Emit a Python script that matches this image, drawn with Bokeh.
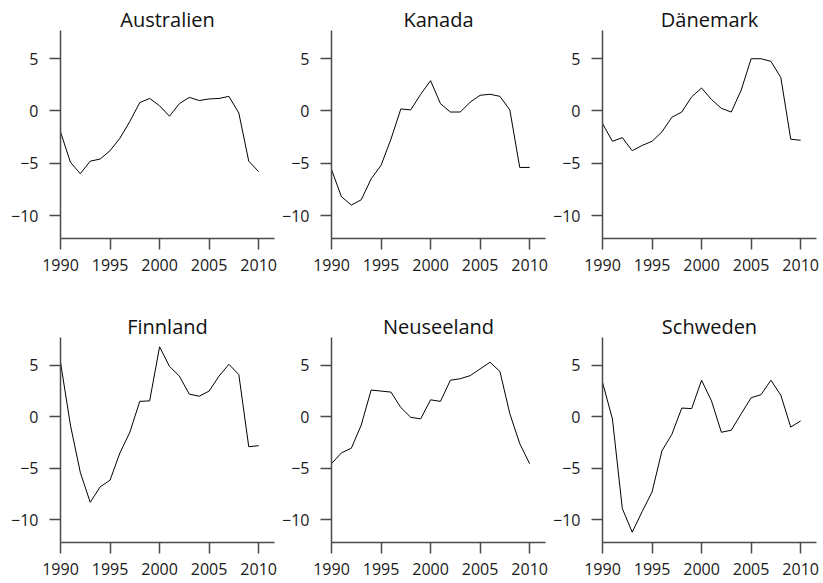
from bokeh.plotting import figure
from bokeh.layouts import column, row
from bokeh.models import Range1d, SingleIntervalTicker, Spacer
from bokeh.embed import file_html
from bokeh.resources import INLINE

years = list(range(1990, 2011))

countries = ["Australien", "Kanada", "Dänemark", "Finnland", "Neuseeland", "Schweden"]

australien = [-2.0, -4.9, -6.0, -4.8, -4.6, -3.8, -2.6, -1.0, 0.8, 1.2, 0.5,
              -0.5, 0.7, 1.3, 1.0, 1.15, 1.2, 1.4, -0.2, -4.8, -5.8]
kanada = [-5.6, -8.2, -9.0, -8.5, -6.5, -5.2, -2.7, 0.2, 0.1, 1.6, 2.9,
          0.7, -0.1, -0.1, 0.85, 1.5, 1.6, 1.4, 0.1, -5.4, -5.4]
daenemark = [-1.2, -2.9, -2.55, -3.8, -3.3, -2.9, -2.0, -0.6, -0.1, 1.35, 2.2,
             1.1, 0.25, -0.1, 2.0, 5.0, 5.0, 4.75, 3.2, -2.7, -2.8]
finnland = [5.3, -0.8, -5.4, -8.3, -6.8, -6.15, -3.5, -1.5, 1.5, 1.55, 6.8,
            4.9, 3.95, 2.2, 2.0, 2.5, 3.95, 5.1, 4.1, -2.9, -2.8]
neuseeland = [-4.55, -3.5, -3.05, -0.8, 2.6, 2.5, 2.4, 0.9, -0.05, -0.2, 1.65,
              1.5, 3.55, 3.7, 4.0, 4.65, 5.3, 4.4, 0.3, -2.6, -4.55]
schweden = [3.35, -0.2, -8.9, -11.2, -9.2, -7.3, -3.3, -1.7, 0.85, 0.8, 3.55,
            1.55, -1.5, -1.3, 0.3, 1.85, 2.15, 3.55, 2.1, -1.0, -0.4]

series = [australien, kanada, daenemark, finnland, neuseeland, schweden]

x_ticks = [1990, 1995, 2000, 2005, 2010]
y_ticks = [-10, -5, 0, 5]
y_tick_labels = {-10: "\u221210", -5: "\u22125", 0: "0", 5: "5"}

FONT = "Open Sans"
AXIS_COL = "#4a4a4a"

FIG_W = 271
B_LEFT, B_RIGHT, B_TOP = 52, 5, 30


def make_panel(title, values, height, b_bottom):
    p = figure(width=FIG_W, height=height,
               x_range=Range1d(1990, 2011.6), y_range=Range1d(-12.2, 7.7),
               output_backend="svg", toolbar_location=None,
               min_border_left=B_LEFT, min_border_right=B_RIGHT,
               min_border_top=B_TOP, min_border_bottom=b_bottom)
    p.title.text = title
    p.title.align = "center"
    p.title.text_font = FONT
    p.title.text_font_size = "20px"
    p.title.text_font_style = "normal"
    p.title.text_color = "#111111"
    p.title.standoff = -4
    p.line(years, values, line_color="black", line_width=1)
    p.grid.visible = False
    p.outline_line_color = None
    p.background_fill_color = "white"
    p.border_fill_color = "white"
    p.xaxis.ticker = SingleIntervalTicker(interval=x_ticks[1] - x_ticks[0],
                                          num_minor_ticks=0)
    p.yaxis.ticker = SingleIntervalTicker(interval=y_ticks[1] - y_ticks[0],
                                          num_minor_ticks=0)
    p.yaxis.major_label_overrides = y_tick_labels
    p.axis.axis_line_color = AXIS_COL
    p.axis.axis_line_width = 1.5
    p.axis.major_tick_line_color = AXIS_COL
    p.axis.major_tick_line_width = 1.5
    p.axis.major_tick_out = 11
    p.axis.major_tick_in = 0
    p.axis.minor_tick_line_color = None
    p.axis.major_label_text_font = FONT
    p.axis.major_label_text_font_size = "16px"
    p.axis.major_label_text_color = "#1a1a1a"
    p.xaxis.major_label_standoff = 9
    p.yaxis.major_label_standoff = 11
    return p


row1 = [make_panel(countries[i], series[i], 279, 41) for i in range(3)]
row2 = [make_panel(countries[i], series[i], 275, 40) for i in range(3, 6)]

grid = column(row(*row1), Spacer(height=28), row(*row2))
layout = row(Spacer(width=8), grid)

open("out.html", "w").write(file_html(layout, INLINE))
